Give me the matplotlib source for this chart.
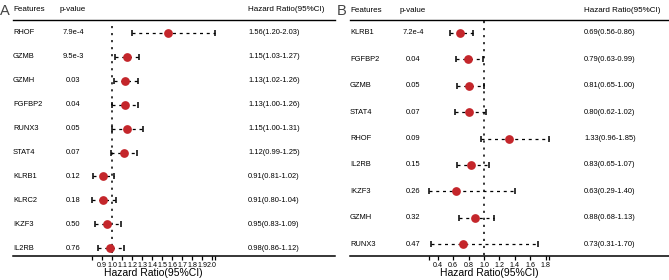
import matplotlib
matplotlib.use("Agg")
import matplotlib.pyplot as plt
import matplotlib.transforms as mtransforms

plt.rcParams['font.family'] = ['Liberation Sans', 'DejaVu Sans']

# ---------------- data ----------------
genes_a = ["RHOF", "GZMB", "GZMH", "FGFBP2", "RUNX3", "STAT4", "KLRB1", "KLRC2", "IKZF3", "IL2RB"]
pval_a = ["7.9e-4", "9.5e-3", "0.03", "0.04", "0.05", "0.07", "0.12", "0.18", "0.50", "0.76"]
hr_a = [1.56, 1.15, 1.13, 1.13, 1.15, 1.12, 0.91, 0.91, 0.95, 0.98]
lo_a = [1.20, 1.03, 1.02, 1.00, 1.00, 0.99, 0.81, 0.80, 0.83, 0.86]
hi_a = [2.03, 1.27, 1.26, 1.26, 1.31, 1.25, 1.02, 1.04, 1.09, 1.12]
ticks_a = [0.8, 0.9, 1.0, 1.1, 1.2, 1.3, 1.4, 1.5, 1.6, 1.7, 1.8, 1.9, 2.0, 2.03]
ticklabels_a = ["", "0.9", "1.0", "1.1", "1.2", "1.3", "1.4", "1.5", "1.6", "1.7", "1.8", "1.9", "2.0", ""]

genes_b = ["KLRB1", "FGFBP2", "GZMB", "STAT4", "RHOF", "IL2RB", "IKZF3", "GZMH", "RUNX3"]
pval_b = ["7.2e-4", "0.04", "0.05", "0.07", "0.09", "0.15", "0.26", "0.32", "0.47"]
hr_b = [0.69, 0.79, 0.81, 0.80, 1.33, 0.83, 0.63, 0.88, 0.73]
lo_b = [0.56, 0.63, 0.65, 0.62, 0.96, 0.65, 0.29, 0.68, 0.31]
hi_b = [0.86, 0.99, 1.00, 1.02, 1.85, 1.07, 1.40, 1.13, 1.70]
ticks_b = [0.29, 0.4, 0.6, 0.8, 1.0, 1.2, 1.4, 1.6, 1.8, 1.85]
ticklabels_b = ["", "0.4", "0.6", "0.8", "1.0", "1.2", "1.4", "1.6", "1.8", ""]

W, H = 669, 280
fig = plt.figure(figsize=(W / 100, H / 100), dpi=100)

RED = "#c4262b"


def panel(letter, genes, pvals, hr, lo, hi, ticks, ticklabels,
          left_px, right_px, one_px, px_per_unit, first_row_px, row_gap,
          pcol_px, hrcol_px, letter_px, vline_top_px):
    bottom_px = 256
    ax = fig.add_axes([left_px / W, (H - bottom_px) / H, (right_px - left_px) / W, bottom_px / H])
    x0 = 1.0 - (one_px - left_px) / px_per_unit
    x1 = 1.0 + (right_px - one_px) / px_per_unit
    ax.set_xlim(x0, x1)
    r_top = -first_row_px / row_gap
    r_bot = (bottom_px - first_row_px) / row_gap
    ax.set_ylim(r_bot, r_top)

    for s in ["top", "right", "left"]:
        ax.spines[s].set_visible(False)
    ax.spines["bottom"].set_linewidth(1.1)
    ax.set_yticks([])
    ax.set_xticks(ticks)
    ax.set_xticklabels(ticklabels, fontsize=5.1)
    ax.tick_params(axis="x", length=2.8, width=0.9, pad=1.3)
    ax.set_xlabel("Hazard Ratio(95%CI)", fontsize=7.5, labelpad=1.5)
    mid = (ticks[0] + ticks[-1]) / 2
    ax.xaxis.set_label_coords((mid - x0) / (x1 - x0), -0.045)

    def fx(px):
        return (px - left_px) / (right_px - left_px)

    tr = mtransforms.blended_transform_factory(ax.transAxes, ax.transData)

    def ry(px):
        return (px - first_row_px) / row_gap

    hy = ry(10)
    ax.text(fx(left_px), hy, "Features", transform=tr, fontsize=5.8, ha="left", va="center")
    ax.text(fx(pcol_px), hy, "p-value", transform=tr, fontsize=5.8, ha="center", va="center")
    ax.text(fx(hrcol_px), hy, "Hazard Ratio(95%CI)", transform=tr, fontsize=5.8, ha="left", va="center")
    ax.plot([0, 1], [ry(20), ry(20)], transform=tr, color="black", lw=1.0, clip_on=False)
    fig.text(letter_px / W, 1 - 11 / H, letter, fontsize=10.5, ha="left", va="center",
             color="#444444")

    ax.plot([1.0, 1.0], [ry(vline_top_px), r_bot], color="black", lw=1.1,
            linestyle=(0, (1.4, 3.2)), clip_on=False)

    for i, g in enumerate(genes):
        ax.text(fx(left_px), i, g, transform=tr, fontsize=5.4, ha="left", va="center")
        ax.text(fx(pcol_px), i, pvals[i], transform=tr, fontsize=5.4, ha="center", va="center")
        ax.text(fx(hrcol_px), i, f"{hr[i]:.2f}({lo[i]:.2f}-{hi[i]:.2f})", transform=tr,
                fontsize=5.4, ha="left", va="center")
        ax.plot([lo[i], hi[i]], [i, i], color="black", lw=0.9, linestyle=(0, (2.4, 3.0)))
        ax.plot([lo[i], hi[i]], [i, i], linestyle="none", marker="|", color="black",
                markersize=5, markeredgewidth=1.1)
        ax.plot([hr[i]], [i], marker="o", color=RED, markersize=6.3, markeredgewidth=0, zorder=5)
    return ax


panel("A", genes_a, pval_a, hr_a, lo_a, hi_a, ticks_a, ticklabels_a,
      left_px=13, right_px=335, one_px=112, px_per_unit=100, first_row_px=33, row_gap=23.9,
      pcol_px=73, hrcol_px=248, letter_px=0, vline_top_px=26)
panel("B", genes_b, pval_b, hr_b, lo_b, hi_b, ticks_b, ticklabels_b,
      left_px=350, right_px=669, one_px=484, px_per_unit=77, first_row_px=33, row_gap=26.4,
      pcol_px=413, hrcol_px=584, letter_px=337, vline_top_px=21)

fig.savefig("out.png", dpi=100)
